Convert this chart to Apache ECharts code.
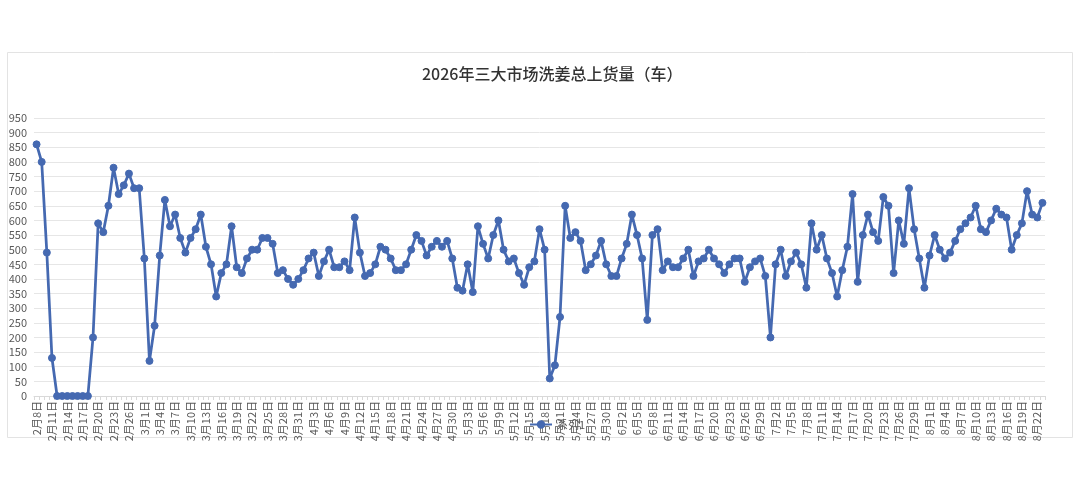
<!DOCTYPE html>
<html>
<head>
<meta charset="utf-8">
<script src="https://cdn.jsdelivr.net/npm/echarts@6/dist/echarts.min.js"></script>
<style>
html,body{margin:0;padding:0;background:#fff;}
#chart{width:1080px;height:491px;}
</style>
</head>
<body>
<div id="chart"></div>
<script>
// ---- data ----
const titleText = '2026年三大市场洗姜总上货量（车）';
const seriesName = '系列1';
const startMonth = 2, startDay = 8, year = 2026;

// daily values, 2月8日 onward
const valuesFeb = [860, 800, 490, 130, 0, 0, 0, 0, 0, 0, 0, 200, 590, 560, 650, 780, 690, 720, 760, 710, 710];
const valuesMar = [470, 120, 240, 480, 670, 580, 620, 540, 490, 540, 570, 620, 510, 450, 340, 420, 450, 580, 440, 420, 470, 500, 500, 540, 540, 520, 420, 430, 400, 380, 400];
const valuesApr = [430, 470, 490, 410, 460, 500, 440, 440, 460, 430, 610, 490, 410, 420, 450, 510, 500, 470, 430, 430, 450, 500, 550, 530, 480, 510, 530, 510, 530, 470];
const valuesMay = [370, 360, 450, 355, 580, 520, 470, 550, 600, 500, 460, 470, 420, 380, 440, 460, 570, 500, 60, 105, 270, 650, 540, 560, 530, 430, 450, 480, 530, 450, 410];
const valuesJun = [410, 470, 520, 620, 550, 470, 260, 550, 570, 430, 460, 440, 440, 470, 500, 410, 460, 470, 500, 470, 450, 420, 450, 470, 470, 390, 440, 460, 470, 410];
const valuesJul = [200, 450, 500, 410, 460, 490, 450, 370, 590, 500, 550, 470, 420, 340, 430, 510, 690, 390, 550, 620, 560, 530, 680, 650, 420, 600, 520, 710, 570, 470, 370];
const valuesAug = [480, 550, 500, 470, 490, 530, 570, 590, 610, 650, 570, 560, 600, 640, 620, 610, 500, 550, 590, 700, 620, 610, 660];

const values = [].concat(valuesFeb, valuesMar, valuesApr, valuesMay, valuesJun, valuesJul, valuesAug);

// category labels: consecutive days starting 2月8日
const categories = [];
for (let k = 0; k < values.length; k++) {
  const dt = new Date(year, startMonth - 1, startDay + k);
  categories.push((dt.getMonth() + 1) + '月' + dt.getDate() + '日');
}

const yTicks = {min: 0, max: 950, interval: 50};

// ---- chart ----
const chart = echarts.init(document.getElementById('chart'), null, {renderer: 'canvas'});
const font = '"Noto Sans CJK SC", "Noto Sans", sans-serif';
const blue = '#4569B1';
chart.setOption({
  backgroundColor: '#ffffff',
  animation: false,
  textStyle: {fontFamily: font},
  graphic: [{
    type: 'rect',
    shape: {x: 7.5, y: 52.5, width: 1065, height: 385},
    style: {fill: 'none', stroke: '#e3e3e3', lineWidth: 1},
    silent: true, z: -1
  }],
  title: {
    text: titleText,
    left: 417,
    top: 61,
    textStyle: {fontSize: 16, fontWeight: 500, color: '#333333', fontFamily: font}
  },
  legend: {
    data: [seriesName],
    left: 524,
    top: 414,
    itemWidth: 22,
    itemHeight: 8,
    itemGap: 4,
    textStyle: {fontSize: 11, color: '#595959', fontFamily: font},
    backgroundColor: 'rgba(255,255,255,0)'
  },
  grid: {left: 34, right: 35, top: 118, bottom: 95, containLabel: false},
  xAxis: {
    type: 'category',
    data: categories,
    boundaryGap: true,
    axisLine: {show: true, lineStyle: {color: '#d9d9d9', width: 1}},
    axisTick: {show: true, interval: 0, length: 4, alignWithLabel: false, lineStyle: {color: '#d9d9d9'}},
    axisLabel: {interval: 2, rotate: 90, fontSize: 11, color: '#595959', margin: 5, fontFamily: font},
    splitLine: {show: false}
  },
  yAxis: {
    type: 'value',
    min: yTicks.min,
    max: yTicks.max,
    interval: yTicks.interval,
    axisLine: {show: false},
    axisTick: {show: false},
    axisLabel: {fontSize: 11, color: '#595959', margin: 7, fontFamily: font},
    splitLine: {show: true, lineStyle: {color: '#e6e6e6', width: 1}}
  },
  series: [{
    name: seriesName,
    type: 'line',
    data: values,
    symbol: 'circle',
    symbolSize: 7,
    showAllSymbol: true,
    lineStyle: {color: blue, width: 2.75},
    itemStyle: {color: blue, borderColor: blue, borderWidth: 1}
  }]
});
</script>
</body>
</html>
